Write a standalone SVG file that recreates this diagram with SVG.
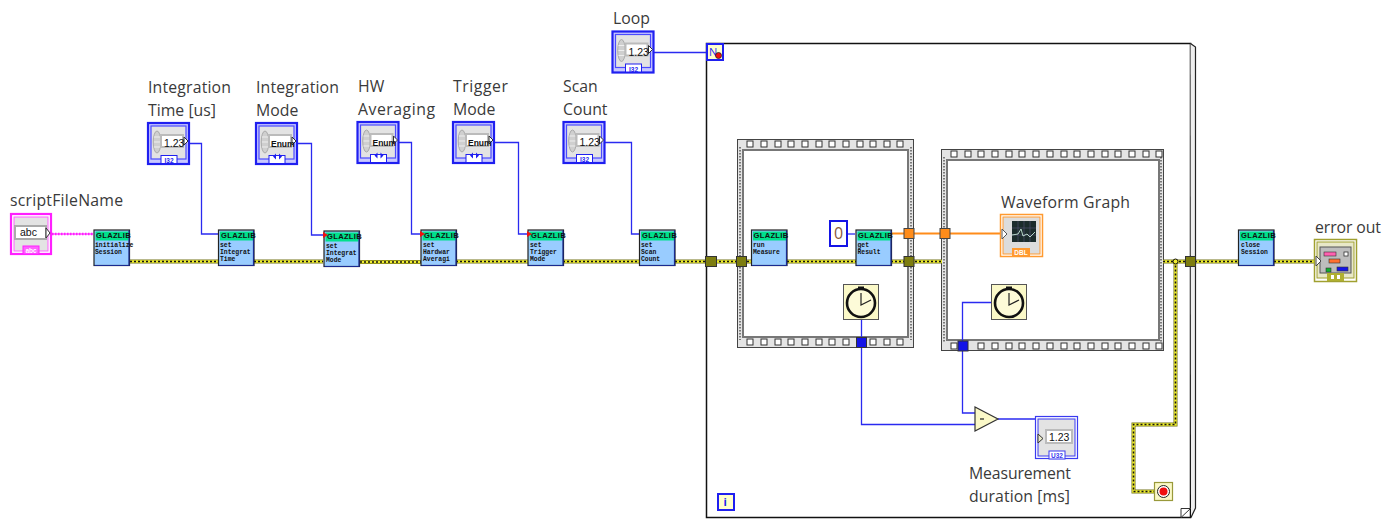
<svg xmlns="http://www.w3.org/2000/svg" width="1398" height="520" viewBox="0 0 1398 520">
<style>
text{font-family:"Open Sans","Noto Sans",sans-serif}
.lab{font-size:15.8px;fill:#3a3a3a}
.hd{font-family:"Liberation Sans",sans-serif;font-size:7.6px;font-weight:bold;fill:#111;letter-spacing:.3px}
.bd{font-family:"Liberation Mono",monospace;font-size:6.4px;font-weight:bold;fill:#111}
.num{font-family:"Liberation Sans",sans-serif;font-size:10.5px;fill:#111}
.en{font-family:"Liberation Sans",sans-serif;font-size:8.5px;font-weight:bold;fill:#111}
.rep{font-family:"Liberation Sans",sans-serif;font-size:6.5px;font-weight:bold;text-anchor:middle}
.blue{stroke:#2a2af0;stroke-width:1.3;fill:none}
.y0{stroke:#74741a;stroke-width:4;fill:none}
.y1{stroke:#f0ee30;stroke-width:2.6;fill:none}
.y2{stroke:#111;stroke-width:1.5;stroke-dasharray:2 2;fill:none}
.tun{fill:#7d7d10;stroke:#333;stroke-width:1}
.hole{fill:#fff;stroke:#333;stroke-width:1}
.film{fill:#e4e4e4;stroke:#444;stroke-width:1}
.dots{fill:none;stroke:#555;stroke-width:1.5;stroke-dasharray:1.5 1.5}
.filmin{fill:#fff;stroke:#777;stroke-width:2}
</style>
<defs>
<g id="subvi">
<rect x=".5" y=".5" width="35.5" height="35.5" fill="#99ccff" stroke="#222" stroke-width="1.2"/>
<rect x="2" y="2" width="33" height="9" fill="#00e08c"/>
<path d="M35.500 1V36H1" fill="none" stroke="#1a2a90" stroke-width="1.2"/>
</g>
<g id="ctl">
<rect x="1" y="1" width="41" height="41" fill="#c8c8ff" stroke="#1f1ff0" stroke-width="2.200"/>
<rect x="4" y="4" width="35" height="33" fill="#e3e3e3" stroke="#4a4aff" stroke-width="1.200"/>
<ellipse cx="10" cy="20" rx="3.8" ry="11" fill="#cfcfcf" stroke="#aaa"/>
<path d="M7 15h6M7 20h6M7 25h6" stroke="#eee" stroke-width="1"/>
<rect x="13" y="12" width="24" height="14" fill="#bbb"/>
<rect x="15" y="14" width="20" height="10" fill="#fff"/>
<path d="M37 15l4 4-4 4z" fill="#fff" stroke="#333"/>
<rect x="14" y="33.500" width="16" height="8" fill="#fff" stroke="#1f1ff0"/>
</g>
<g id="clock">
<rect x=".5" y=".5" width="35" height="35" fill="#fbf9c8" stroke="#555"/>
<rect x="15" y="2.500" width="6" height="2.500" fill="#111"/>
<circle cx="18" cy="19" r="14" fill="#fdfbd8" stroke="#111" stroke-width="2.600"/>
<path d="M18 9v12l10-5" fill="none" stroke="#222" stroke-width="1.200"/>
</g>
</defs>

<g id="loop-frame">
<path d="M706.500 43.500H1190.500V517.500H706.500Z" fill="#fff" stroke="#111" stroke-width="1.500"/>
<path d="M1190.500 43.500L1195.500 47V508L1191 517.500" fill="#eee" stroke="#222" stroke-width="1.200"/>
<path d="M1181 517.500L1190.500 508.500H1181Z" fill="#fff" stroke="#333"/>
</g>

<g id="sequence-1">
<rect class="film" x="737.500" y="139.500" width="176" height="208"/>
<path class="dots" d="M740 147V340M911 147V340"/>
<rect class="filmin" x="743" y="150" width="165" height="187"/>
<g id="holes-1a"><rect class="hole" x="747" y="141" width="6" height="6"/><rect class="hole" x="761" y="141" width="6" height="6"/><rect class="hole" x="775" y="141" width="6" height="6"/><rect class="hole" x="788" y="141" width="6" height="6"/><rect class="hole" x="802" y="141" width="6" height="6"/><rect class="hole" x="816" y="141" width="6" height="6"/><rect class="hole" x="829" y="141" width="6" height="6"/><rect class="hole" x="843" y="141" width="6" height="6"/><rect class="hole" x="857" y="141" width="6" height="6"/><rect class="hole" x="870" y="141" width="6" height="6"/><rect class="hole" x="884" y="141" width="6" height="6"/><rect class="hole" x="897" y="141" width="6" height="6"/></g>
<g id="holes-1b"><rect class="hole" x="747" y="339" width="6" height="6"/><rect class="hole" x="761" y="339" width="6" height="6"/><rect class="hole" x="775" y="339" width="6" height="6"/><rect class="hole" x="788" y="339" width="6" height="6"/><rect class="hole" x="802" y="339" width="6" height="6"/><rect class="hole" x="816" y="339" width="6" height="6"/><rect class="hole" x="829" y="339" width="6" height="6"/><rect class="hole" x="843" y="339" width="6" height="6"/><rect class="hole" x="870" y="339" width="6" height="6"/><rect class="hole" x="884" y="339" width="6" height="6"/><rect class="hole" x="897" y="339" width="6" height="6"/></g>
</g>

<g id="sequence-2">
<rect class="film" x="941.500" y="149.500" width="222" height="201"/>
<path class="dots" d="M944 157V342M1161 157V342"/>
<rect class="filmin" x="947" y="160" width="212" height="180"/>
<g id="holes-2a"><rect class="hole" x="951" y="151" width="6" height="6"/><rect class="hole" x="965" y="151" width="6" height="6"/><rect class="hole" x="978" y="151" width="6" height="6"/><rect class="hole" x="992" y="151" width="6" height="6"/><rect class="hole" x="1006" y="151" width="6" height="6"/><rect class="hole" x="1019" y="151" width="6" height="6"/><rect class="hole" x="1033" y="151" width="6" height="6"/><rect class="hole" x="1047" y="151" width="6" height="6"/><rect class="hole" x="1061" y="151" width="6" height="6"/><rect class="hole" x="1074" y="151" width="6" height="6"/><rect class="hole" x="1088" y="151" width="6" height="6"/><rect class="hole" x="1102" y="151" width="6" height="6"/><rect class="hole" x="1115" y="151" width="6" height="6"/><rect class="hole" x="1129" y="151" width="6" height="6"/><rect class="hole" x="1143" y="151" width="6" height="6"/><rect class="hole" x="1156" y="151" width="6" height="6"/></g>
<g id="holes-2b"><rect class="hole" x="951" y="343" width="6" height="6"/><rect class="hole" x="978" y="343" width="6" height="6"/><rect class="hole" x="992" y="343" width="6" height="6"/><rect class="hole" x="1006" y="343" width="6" height="6"/><rect class="hole" x="1019" y="343" width="6" height="6"/><rect class="hole" x="1033" y="343" width="6" height="6"/><rect class="hole" x="1047" y="343" width="6" height="6"/><rect class="hole" x="1061" y="343" width="6" height="6"/><rect class="hole" x="1074" y="343" width="6" height="6"/><rect class="hole" x="1088" y="343" width="6" height="6"/><rect class="hole" x="1102" y="343" width="6" height="6"/><rect class="hole" x="1115" y="343" width="6" height="6"/><rect class="hole" x="1129" y="343" width="6" height="6"/><rect class="hole" x="1143" y="343" width="6" height="6"/><rect class="hole" x="1156" y="343" width="6" height="6"/></g>
</g>

<g id="connectors">
<path d="M52 234H93" fill="none" stroke="#ff50ff" stroke-width="1.600"/>
<path d="M52 234H93" fill="none" stroke="#ff20ff" stroke-width="2.600" stroke-dasharray="1.500 1.500"/>
<path class="blue" d="M190 143.500H201.500V234H218"/>
<path class="blue" d="M298 143.500H311.500V235H323"/>
<path class="blue" d="M399 142.500H411.500V234H421"/>
<path class="blue" d="M495 142.500H518.500V234H528"/>
<path class="blue" d="M605 142.500H631.500V234H639"/>
<path class="blue" d="M654 52.500H707"/>
<path class="blue" d="M848 234H855"/>
<path class="blue" d="M861.500 320V424.500H975"/>
<path class="blue" d="M991 302.500H962.500V413H975"/>
<path class="blue" d="M998 419H1035"/>
<path d="M891 233.500H1000" fill="none" stroke="#ff8c1a" stroke-width="2"/>
<g id="error-wire">
<path class="y0" d="M130 261.500H323M360 262H421M456 261.500H528M563 261.500H639M675 261.500H942M1163 261.500H1238M1274 261.500H1314M1175.500 261.500V424.500H1133.500V491.500H1154"/>
<path class="y1" d="M130 261.500H323M360 262H421M456 261.500H528M563 261.500H639M675 261.500H942M1163 261.500H1238M1274 261.500H1314M1175.500 261.500V424.500H1133.500V491.500H1154"/>
<path class="y2" d="M130 261.500H323M360 262H421M456 261.500H528M563 261.500H639M675 261.500H942M1163 261.500H1238M1274 261.500H1314M1175.500 261.500V424.500H1133.500V491.500H1154"/>
<circle cx="1175.500" cy="261.500" r="2.500" fill="#f0ee30" stroke="#111"/>
</g>
</g>

<g id="tunnels">
<rect class="tun" x="705.500" y="256.500" width="11" height="10"/>
<rect class="tun" x="736.500" y="256.500" width="10" height="10"/>
<rect class="tun" x="904" y="256.500" width="10" height="10"/>
<rect class="tun" x="1185.500" y="256.500" width="10" height="10"/>
<rect x="904" y="228.500" width="10" height="10" fill="#ff8c1a" stroke="#444"/>
<rect x="940" y="228.500" width="10" height="10" fill="#ff8c1a" stroke="#444"/>
<rect x="856.500" y="337.500" width="10" height="10" fill="#1414e6" stroke="#333"/>
<rect x="958" y="341" width="10" height="10" fill="#1414e6" stroke="#333"/>
</g>

<g id="scriptFileName">
<text class="lab" x="10" y="206" textLength="113">scriptFileName</text>
<rect x="11" y="214" width="40" height="40" fill="#fff" stroke="#ff20ff" stroke-width="2.200"/>
<rect x="14" y="217" width="34" height="34" fill="#e3e3e3" stroke="#ff60ff"/>
<rect x="15" y="226" width="31" height="13" fill="#fff" stroke="#aaa" stroke-width="2"/>
<text class="num" x="20" y="236">abc</text>
<path d="M46 228l4 5-4 5z" fill="#fff" stroke="#333"/>
<rect x="23" y="246" width="16" height="8" fill="#ff60ff" stroke="#ff20ff"/>
<text class="rep" x="31" y="253" fill="#fff">abc</text>
</g>

<g id="integration-time">
<text class="lab" x="148" y="93" textLength="83">Integration</text>
<text class="lab" x="148" y="116" textLength="68">Time [us]</text>
<use href="#ctl" x="147" y="122"/>
<text class="num" x="164" y="147">1.23</text>
<text class="rep" x="169" y="163" fill="#1f1ff0">I32</text>
</g>
<g id="integration-mode">
<text class="lab" x="256" y="93" textLength="83">Integration</text>
<text class="lab" x="256" y="116">Mode</text>
<use href="#ctl" x="255" y="122"/>
<text class="en" x="271" y="147">Enum</text>
<path d="M273 156.500l3-3v6zM279 153.500l3 3-3 3z" fill="#1f1ff0"/>
</g>
<g id="hw-averaging">
<text class="lab" x="358" y="92">HW</text>
<text class="lab" x="358" y="115" textLength="77">Averaging</text>
<use href="#ctl" x="356.500" y="121"/>
<text class="en" x="372.500" y="146">Enum</text>
<path d="M374.500 155.500l3-3v6zM380.500 152.500l3 3-3 3z" fill="#1f1ff0"/>
</g>
<g id="trigger-mode">
<text class="lab" x="453" y="92" textLength="55">Trigger</text>
<text class="lab" x="453" y="115">Mode</text>
<use href="#ctl" x="452" y="121"/>
<text class="en" x="468" y="146">Enum</text>
<path d="M470 155.500l3-3v6zM476 152.500l3 3-3 3z" fill="#1f1ff0"/>
</g>
<g id="scan-count">
<text class="lab" x="563" y="92">Scan</text>
<text class="lab" x="563" y="115">Count</text>
<use href="#ctl" x="562.500" y="121"/>
<text class="num" x="579.500" y="146">1.23</text>
<text class="rep" x="584.500" y="162" fill="#1f1ff0">I32</text>
</g>
<g id="loop-control">
<text class="lab" x="613" y="24">Loop</text>
<use href="#ctl" x="611.500" y="30.500"/>
<text class="num" x="628.500" y="55.500">1.23</text>
<text class="rep" x="633.500" y="71.500" fill="#1f1ff0">I32</text>
</g>

<g id="count-terminal">
<rect x="707" y="44" width="16" height="16" fill="#ffffcc" stroke="#1f1ff0" stroke-width="2"/>
<text x="709" y="56" font-size="11" fill="#1f1ff0">N</text>
<circle cx="718.500" cy="55.500" r="3" fill="#f01010" stroke="#222" stroke-width=".8"/>
</g>
<g id="iteration-terminal">
<rect x="718" y="494" width="16" height="16" fill="#ffffcc" stroke="#1f1ff0" stroke-width="2"/>
<text x="723.500" y="506" font-size="11" font-weight="bold" fill="#1f1ff0">i</text>
</g>

<g id="init"><use href="#subvi" x="93.500" y="229.500"/><text class="hd" x="96" y="238">GLAZLIB</text><text class="bd" x="95" y="247">initialize</text><text class="bd" x="95" y="254">Session</text></g>
<g id="set-time"><use href="#subvi" x="218" y="229.500"/><text class="hd" x="221" y="238">GLAZLIB</text><text class="bd" x="220" y="247">set</text><text class="bd" x="220" y="254">Integrat</text><text class="bd" x="220" y="261">Time</text></g>
<g id="set-mode"><use href="#subvi" x="323.500" y="230.500"/><text class="hd" x="327" y="239">GLAZLIB</text><text class="bd" x="326" y="248">set</text><text class="bd" x="326" y="255">Integrat</text><text class="bd" x="326" y="262">Mode</text><path d="M323 232l5 3-5 3z" fill="#f01010"/></g>
<g id="set-hw"><use href="#subvi" x="420.500" y="229.500"/><text class="hd" x="424" y="238">GLAZLIB</text><text class="bd" x="423" y="247">set</text><text class="bd" x="423" y="254">Hardwar</text><text class="bd" x="423" y="261">Averagi</text><path d="M420 231l5 3-5 3z" fill="#f01010"/></g>
<g id="set-trigger"><use href="#subvi" x="527.500" y="229.500"/><text class="hd" x="531" y="238">GLAZLIB</text><text class="bd" x="530" y="247">set</text><text class="bd" x="530" y="254">Trigger</text><text class="bd" x="530" y="261">Mode</text><path d="M527 231l5 3-5 3z" fill="#f01010"/></g>
<g id="set-scan"><use href="#subvi" x="639" y="229.500"/><text class="hd" x="642" y="238">GLAZLIB</text><text class="bd" x="641" y="247">set</text><text class="bd" x="641" y="254">Scan</text><text class="bd" x="641" y="261">Count</text></g>
<g id="run-measure"><use href="#subvi" x="751" y="229.500"/><text class="hd" x="753.500" y="238">GLAZLIB</text><text class="bd" x="753" y="247">run</text><text class="bd" x="753" y="254">Measure</text></g>
<g id="get-result"><use href="#subvi" x="855.500" y="229.500"/><text class="hd" x="858" y="238">GLAZLIB</text><text class="bd" x="857.500" y="247">get</text><text class="bd" x="857.500" y="254">Result</text></g>
<g id="close"><use href="#subvi" x="1238" y="229.500"/><text class="hd" x="1241" y="238">GLAZLIB</text><text class="bd" x="1241" y="247">close</text><text class="bd" x="1241" y="254">Session</text></g>

<g id="zero-constant">
<rect x="830" y="221" width="17" height="25" fill="#fff" stroke="#1414e6" stroke-width="2"/>
<text x="834" y="239" font-family="Liberation Sans,sans-serif" font-size="16" fill="#8a5a3a">0</text>
</g>
<g id="tick-1"><use href="#clock" x="843" y="284"/></g>
<g id="tick-2"><use href="#clock" x="991" y="284"/></g>

<g id="waveform-graph">
<text class="lab" x="1001" y="208" textLength="129">Waveform Graph</text>
<rect x="1000.500" y="214.500" width="42" height="42" fill="#fff" stroke="#ff9a30" stroke-width="1.500"/>
<rect x="1003" y="217" width="37" height="37" fill="#dcdcdc" stroke="#ff9a30"/>
<rect x="1012" y="221" width="24" height="21" fill="#1c2c2c"/>
<path d="M1018 221v21M1024 221v21M1030 221v21M1012 228h24M1012 235h24" stroke="#557" stroke-width=".6"/>
<path d="M1012 235l6-1 3-5 2 7 4-2 3 3 5-5" fill="none" stroke="#dfe" stroke-width=".8"/>
<path d="M1002 229l5 5-5 5z" fill="#fff" stroke="#555"/>
<rect x="1012" y="248" width="18" height="8" fill="#ff9a30"/>
<text class="rep" x="1021" y="255" fill="#fff">DBL</text>
</g>

<g id="subtract">
<path d="M975 407V431L998 419Z" fill="#fbf9c8" stroke="#333" stroke-width="1.200"/>
<path d="M980 419h4" stroke="#222" stroke-width="1.200"/>
</g>

<g id="measurement-duration">
<rect x="1035.500" y="416.500" width="42" height="42" fill="#fff" stroke="#3a3af0" stroke-width="1.200"/>
<rect x="1038" y="419" width="37" height="37" fill="#e3e3e3" stroke="#3a3af0"/>
<rect x="1045" y="429" width="28" height="15" fill="#bbb"/>
<rect x="1047" y="431" width="24" height="11" fill="#fff"/>
<text class="num" x="1049" y="441">1.23</text>
<path d="M1038 434l5 4.500-5 4.500z" fill="#e8e8c8" stroke="#333"/>
<rect x="1049" y="451" width="16" height="8" fill="#fff" stroke="#3a3af0"/>
<text class="rep" x="1057" y="458" fill="#3a3af0">U32</text>
<text class="lab" x="969" y="479" textLength="102">Measurement</text>
<text class="lab" x="969" y="502" textLength="101">duration [ms]</text>
</g>

<g id="stop-terminal">
<rect x="1154.500" y="482.500" width="18" height="18" fill="#fbf9c8" stroke="#99993a" stroke-width="1.200"/>
<circle cx="1163.500" cy="491.500" r="6" fill="#fff" stroke="#222"/>
<circle cx="1163.500" cy="491.500" r="4" fill="#f01010"/>
</g>

<g id="error-out">
<text class="lab" x="1315" y="233" textLength="66">error out</text>
<rect x="1314.500" y="239.500" width="42" height="42" fill="#fff" stroke="#a0a030" stroke-width="1.500"/>
<rect x="1317" y="242" width="37" height="36" fill="#e8e8c8" stroke="#a0a030"/>
<rect x="1320" y="247" width="31" height="26" fill="#bdbdbd" stroke="#555"/>
<rect x="1324" y="252" width="12" height="4" fill="#ff60b0" stroke="#333" stroke-width=".6"/>
<rect x="1344" y="252" width="4" height="4" fill="#fff" stroke="#333" stroke-width=".8"/>
<rect x="1329" y="259" width="11" height="4" fill="#ff7030" stroke="#333" stroke-width=".6"/>
<rect x="1326" y="268" width="5" height="4" fill="#10b030" stroke="#333" stroke-width=".6"/>
<rect x="1337" y="267" width="11" height="4" fill="#1414e6" stroke="#333" stroke-width=".6"/>
<rect x="1327" y="273" width="17" height="8" fill="#b0b030"/>
<path d="M1331 275h3v4h-3zM1337 275h3v4h-3z" fill="#fff"/>
<path d="M1316 256l5 5-5 5z" fill="#fff" stroke="#444"/>
</g>
</svg>
